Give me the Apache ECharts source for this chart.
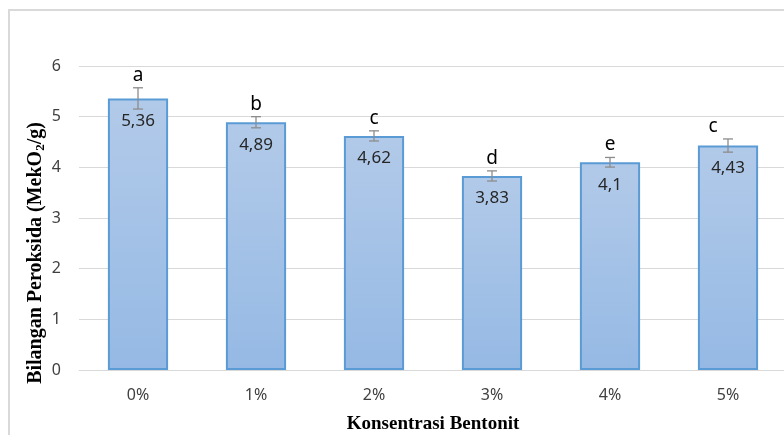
<!DOCTYPE html>
<html>
<head>
<meta charset="utf-8">
<script src="https://cdn.jsdelivr.net/npm/echarts@6/dist/echarts.min.js"></script>
<style>
  html, body { margin: 0; padding: 0; background: #fff; }
  #chart { width: 784px; height: 435px; }
</style>
</head>
<body>
<div id="chart"></div>
<script>
// data
const categories = ['0%', '1%', '2%', '3%', '4%', '5%']
const values = [5.36, 4.89, 4.62, 3.83, 4.1, 4.43]
const errors = [0.21, 0.11, 0.1, 0.1, 0.095, 0.13]
const letters = ['a', 'b', 'c', 'd', 'e', 'c']

const chart = echarts.init(document.getElementById('chart'))

const errorData = values.map((v, i) => [i, v - errors[i], v + errors[i], letters[i]])

const renderError = (params, api) => {
  const x = api.value(0)
  const lo = api.coord([x, api.value(1)])
  const hi = api.coord([x, api.value(2)])
  const cap = 5
  const style = { stroke: '#8c8c8c', lineWidth: 1.3 }
  // last letter sits a bit left of its bar in the source
  const dx = params.dataIndex === categories.length - 1 ? -15 : 0
  return {
    type: 'group',
    children: [
      { type: 'line', shape: { x1: hi[0], y1: hi[1], x2: lo[0], y2: lo[1] }, style },
      { type: 'line', shape: { x1: hi[0] - cap, y1: hi[1], x2: hi[0] + cap, y2: hi[1] }, style },
      { type: 'line', shape: { x1: lo[0] - cap, y1: lo[1], x2: lo[0] + cap, y2: lo[1] }, style },
      {
        type: 'text',
        x: hi[0] + dx,
        y: hi[1] - 3,
        style: {
          text: api.value(3),
          fill: '#000',
          font: '19px "Noto Sans"',
          align: 'center',
          verticalAlign: 'bottom',
        },
      },
    ],
  }
}

const option = {
  backgroundColor: '#fff',
  animation: false,
  graphic: [
    {
      type: 'polyline',
      shape: { points: [[9, 435], [9, 10], [784, 10]] },
      style: { stroke: '#d9d9d9', lineWidth: 2, fill: null },
      silent: true,
    },
  ],
  grid: { left: 79, right: -3, top: 66, bottom: 65, outerBoundsMode: 'none', containLabel: false },
  xAxis: {
    type: 'category',
    data: categories,
    axisTick: { show: false },
    axisLine: { lineStyle: { color: '#d9d9d9', width: 1 } },
    axisLabel: { color: '#404040', fontSize: 16, fontFamily: 'Noto Sans', margin: 17 },
    name: 'Konsentrasi Bentonit',
    nameLocation: 'middle',
    nameGap: 45,
    nameMoveOverlap: false,
    nameTextStyle: { color: '#000', fontSize: 19, fontWeight: 'bold', fontFamily: 'Liberation Serif' },
  },
  yAxis: {
    type: 'value',
    min: 0,
    max: 6,
    interval: 1,
    axisLine: { show: false },
    axisTick: { show: false },
    splitLine: { lineStyle: { color: '#d9d9d9', width: 1 } },
    axisLabel: { color: '#404040', fontSize: 16, fontFamily: 'Noto Sans', margin: 18 },
    name: '{t|Bilangan Peroksida (MekO}{sub|2}{t|/g)}',
    nameLocation: 'middle',
    nameGap: 32,
    nameMoveOverlap: false,
    nameTextStyle: {
      padding: [0, 70, 0, 0],
      rich: {
        t: { color: '#000', fontSize: 20, fontWeight: 'bold', fontFamily: 'Liberation Serif' },
        sub: { color: '#000', fontSize: 13, fontWeight: 'bold', fontFamily: 'Liberation Serif', padding: [9, 0, 0, 0] },
      },
    },
  },
  series: [
    {
      type: 'bar',
      data: values,
      barWidth: '51%',
      itemStyle: {
        color: new echarts.graphic.LinearGradient(0, 0, 0, 1, [
          { offset: 0, color: '#b2cae9' },
          { offset: 1, color: '#95b9e4' },
        ]),
        borderColor: '#5b9bd5',
        borderWidth: 2,
      },
      label: {
        show: true,
        position: 'insideTop',
        distance: 14,
        color: '#262626',
        fontSize: 17,
        fontFamily: 'Noto Sans',
        formatter: (p) => String(p.value).replace('.', ','),
      },
    },
    {
      type: 'custom',
      data: errorData,
      renderItem: renderError,
      encode: { x: 0, y: [1, 2] },
      z: 5,
    },
  ],
}

chart.setOption(option)
</script>
</body>
</html>
